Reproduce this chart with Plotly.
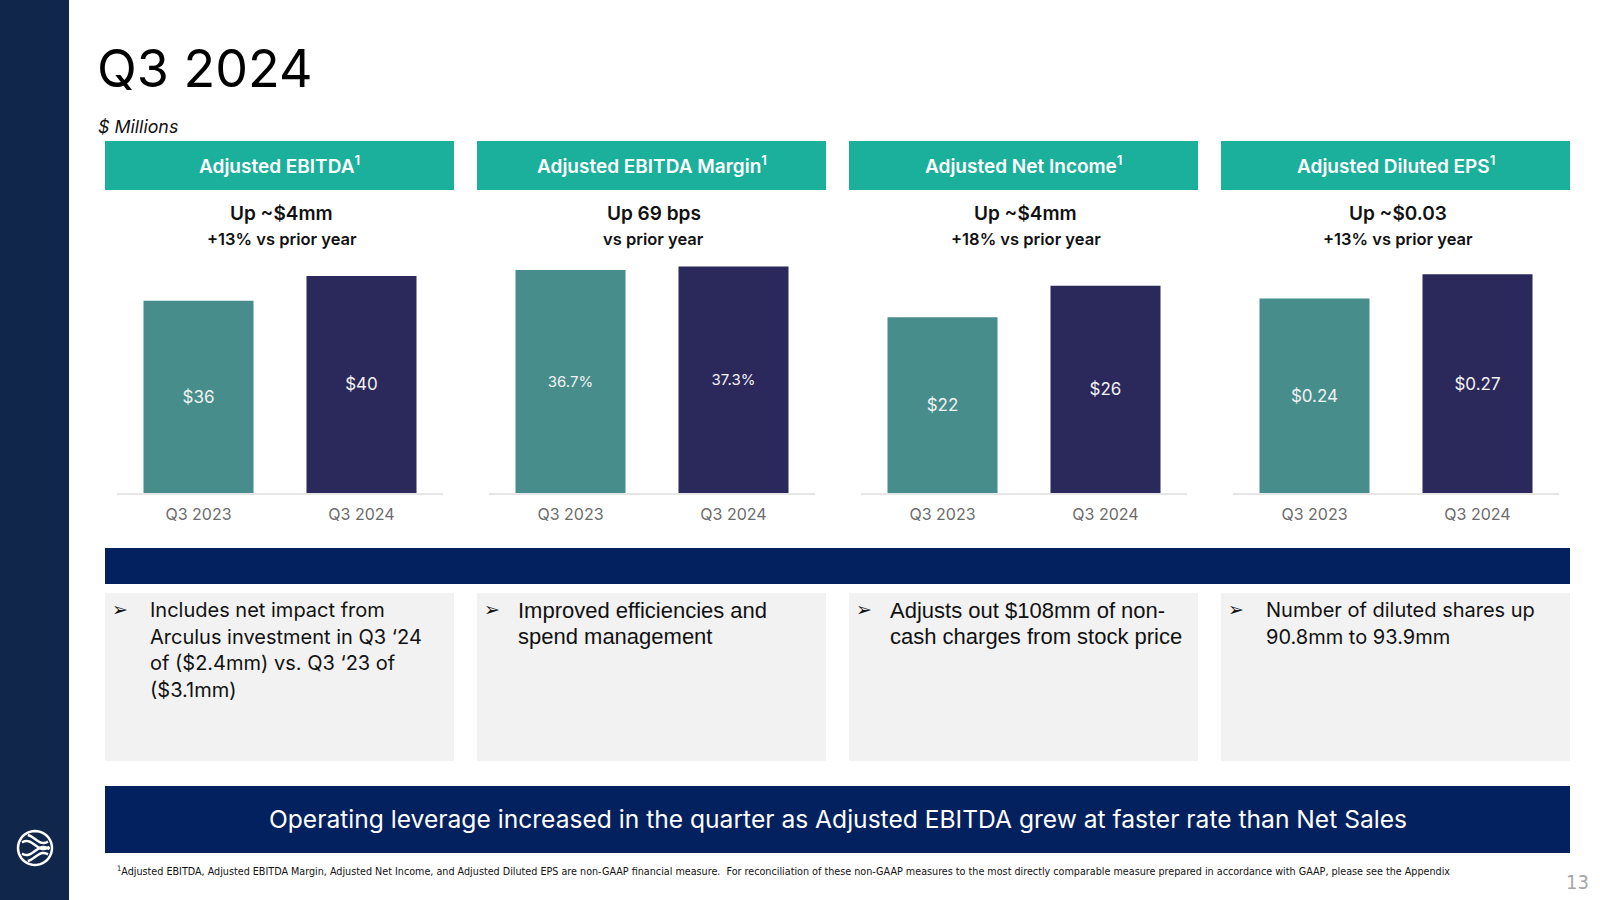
import math
import plotly.graph_objects as go

# ---------------- data ----------------
categories = ["Q3 2023", "Q3 2024"]
panel_titles = ["Adjusted EBITDA", "Adjusted EBITDA Margin", "Adjusted Net Income", "Adjusted Diluted EPS"]
adj_ebitda = [35.6, 40.2]
adj_ebitda_margin = [36.7, 37.3]
adj_net_income = [21.7, 25.6]
adj_diluted_eps = [0.24, 0.27]
ebitda_labels = ["$36", "$40"]
margin_labels = ["36.7%", "37.3%"]
net_income_labels = ["$22", "$26"]
eps_labels = ["$0.24", "$0.27"]
headline_1 = ["Up ~$4mm", "Up 69 bps", "Up ~$4mm", "Up ~$0.03"]
headline_2 = ["+13% vs prior year", "vs prior year", "+18% vs prior year", "+13% vs prior year"]
bullets = [
    ["Includes net impact from", "Arculus investment in Q3 \u201824", "of ($2.4mm) vs. Q3 \u201823 of", "($3.1mm)"],
    ["Improved efficiencies and", "spend management"],
    ["Adjusts out $108mm of non-", "cash charges from stock price"],
    ["Number of diluted shares up", "90.8mm to 93.9mm"],
]
banner_text = "Operating leverage increased in the quarter as Adjusted EBITDA grew at faster rate than Net Sales"
footnote = ("<sup>1</sup>Adjusted EBITDA, Adjusted EBITDA Margin, Adjusted Net Income, and Adjusted Diluted EPS are "
            "non-GAAP financial measure.  For reconciliation of these non-GAAP measures to the most directly "
            "comparable measure prepared in accordance with GAAP, please see the Appendix")

series = [adj_ebitda, adj_ebitda_margin, adj_net_income, adj_diluted_eps]
series_labels = [ebitda_labels, margin_labels, net_income_labels, eps_labels]
y_ranges = [[0, 45], [0, 40], [0, 30], [0, 0.3]]
label_sizes = [17, 15, 17, 17]

# ---------------- style ----------------
W, H = 1600, 900
TEAL_HDR = "#1ab09c"
BAR_COLORS = ["#468d8b", "#2b285c"]
NAVY = "#03215f"
SIDEBAR = "#10264b"
GRAY_BOX = "#f2f2f2"
FONT = "Inter"
NARROW = "DejaVu Sans Condensed"


def px(x):
    return x / W


def py(y):
    return 1 - y / H


fig = go.Figure()
shapes = []
annotations = []


def rect(x0, y0, x1, y1, color):
    shapes.append(dict(type="rect", xref="paper", yref="paper", x0=px(x0), x1=px(x1),
                       y0=py(y1), y1=py(y0), fillcolor=color, line=dict(width=0), layer="below"))


# sidebar
rect(0, 0, 69, 900, SIDEBAR)

step = 372
for i in range(4):
    ax = "" if i == 0 else str(i + 1)
    fig.add_trace(go.Bar(
        x=categories, y=series[i], text=series_labels[i],
        textposition="inside", insidetextanchor="middle", textangle=0,
        textfont=dict(family=FONT, size=label_sizes[i], color="#f2f2f2"),
        marker=dict(color=BAR_COLORS, line=dict(width=0)),
        xaxis="x" + ax, yaxis="y" + ax, showlegend=False, hoverinfo="skip",
    ))
    l, r = 117 + step * i, 443 + step * i
    fig.layout["xaxis" + ax] = dict(
        domain=[px(l), px(r)], anchor="y" + ax, showline=True, linecolor="#e6e6e6", linewidth=2,
        showgrid=False, zeroline=False, ticks="", ticklabelstandoff=6,
        tickfont=dict(family=FONT, size=16, color="#6b6b6b"), fixedrange=True,
    )
    fig.layout["yaxis" + ax] = dict(
        domain=[py(493), py(250)], anchor="x" + ax, range=y_ranges[i], visible=False,
        showgrid=False, zeroline=False, fixedrange=True,
    )

    bx0, bx1 = 105 + step * i, 454 + step * i
    cx = (bx0 + bx1) / 2
    # header box
    rect(bx0, 141, bx1, 190, TEAL_HDR)
    annotations.append(dict(xref="paper", yref="paper", x=px(cx), y=py(165), xanchor="center", yanchor="middle",
                            text=panel_titles[i] + "<sup>1</sup>", showarrow=False,
                            font=dict(family=FONT, size=19, color="white", weight=600)))
    annotations.append(dict(xref="paper", yref="paper", x=px(cx + 2), y=py(213), xanchor="center", yanchor="middle",
                            text=headline_1[i], showarrow=False,
                            font=dict(family=FONT, size=19, color="#111111", weight=600)))
    annotations.append(dict(xref="paper", yref="paper", x=px(cx + 2), y=py(239), xanchor="center", yanchor="middle",
                            text=headline_2[i], showarrow=False,
                            font=dict(family=FONT, size=16.5, color="#111111", weight=600)))
    # grey comment box
    rect(bx0, 593, bx1, 761, GRAY_BOX)
    narrow = i in (1, 2)
    annotations.append(dict(xref="paper", yref="paper", x=px(bx0 + 5), y=py(609), xanchor="left", yanchor="middle",
                            text="\u27a2", showarrow=False,
                            font=dict(family="DejaVu Sans", size=19, color="#111111")))
    for j, line in enumerate(bullets[i]):
        annotations.append(dict(xref="paper", yref="paper", x=px(bx0 + (39 if narrow else 43)),
                                y=py(610 + 26.5 * j), xanchor="left", yanchor="middle", align="left",
                                text=line, showarrow=False,
                                font=dict(family="Liberation Sans" if narrow else FONT,
                                          size=22 if narrow else 20, color="#111111")))

# navy band under charts
rect(105, 548, 1570, 584, NAVY)
# bottom banner
rect(105, 786, 1570, 853, NAVY)
annotations.append(dict(xref="paper", yref="paper", x=px(838), y=py(819), xanchor="center", yanchor="middle",
                        text=banner_text, showarrow=False,
                        font=dict(family=FONT, size=24.6, color="white")))

# title and subtitle
annotations.append(dict(xref="paper", yref="paper", x=px(95), y=py(68), xanchor="left", yanchor="middle",
                        text="Q3 2024", showarrow=False,
                        font=dict(family=FONT, size=52, color="#000000")))
annotations.append(dict(xref="paper", yref="paper", x=px(96), y=py(127), xanchor="left", yanchor="middle",
                        text="<i>$ Millions</i>", showarrow=False,
                        font=dict(family=FONT, size=17.8, color="#111111")))

# footnote and page number
annotations.append(dict(xref="paper", yref="paper", x=px(115), y=py(871), xanchor="left", yanchor="middle",
                        text=footnote, showarrow=False,
                        font=dict(family=NARROW, size=10.7, color="#111111")))
annotations.append(dict(xref="paper", yref="paper", x=px(1591), y=py(882), xanchor="right", yanchor="middle",
                        text="13", showarrow=False,
                        font=dict(family=NARROW, size=20, color="#a6a6a6")))

# logo (decorative)
lx, ly, lr = 35, 848, 17


def path_pts(pts):
    s = "M {:.5f},{:.5f}".format(px(pts[0][0]), py(pts[0][1]))
    for (a, b) in pts[1:]:
        s += " L {:.5f},{:.5f}".format(px(a), py(b))
    return s


circle = [(lx + lr * math.cos(t / 40 * 2 * math.pi), ly + lr * math.sin(t / 40 * 2 * math.pi)) for t in range(41)]
shapes.append(dict(type="path", xref="paper", yref="paper", path=path_pts(circle),
                   line=dict(color="white", width=2.5)))
for k, off in enumerate([-9, -3, 3, 9]):
    pts = []
    for t in range(21):
        xx = -lr * 0.85 + t * (1.7 * lr / 20)
        yy = off + 4 * math.sin((xx / lr) * math.pi) * (1 if off < 0 else -1)
        if xx * xx + yy * yy < (lr - 2) ** 2:
            pts.append((lx + xx, ly + yy))
    if len(pts) > 1:
        shapes.append(dict(type="path", xref="paper", yref="paper", path=path_pts(pts),
                           line=dict(color="white", width=2.5)))

fig.update_layout(
    width=W, height=H, margin=dict(l=0, r=0, t=0, b=0),
    paper_bgcolor="white", plot_bgcolor="white",
    bargap=0.325, shapes=shapes, annotations=annotations,
    font=dict(family=FONT),
)

fig.write_html("out.html", config={"displayModeBar": False},
               post_script="document.body.style.margin='0';document.body.style.padding='0';")
